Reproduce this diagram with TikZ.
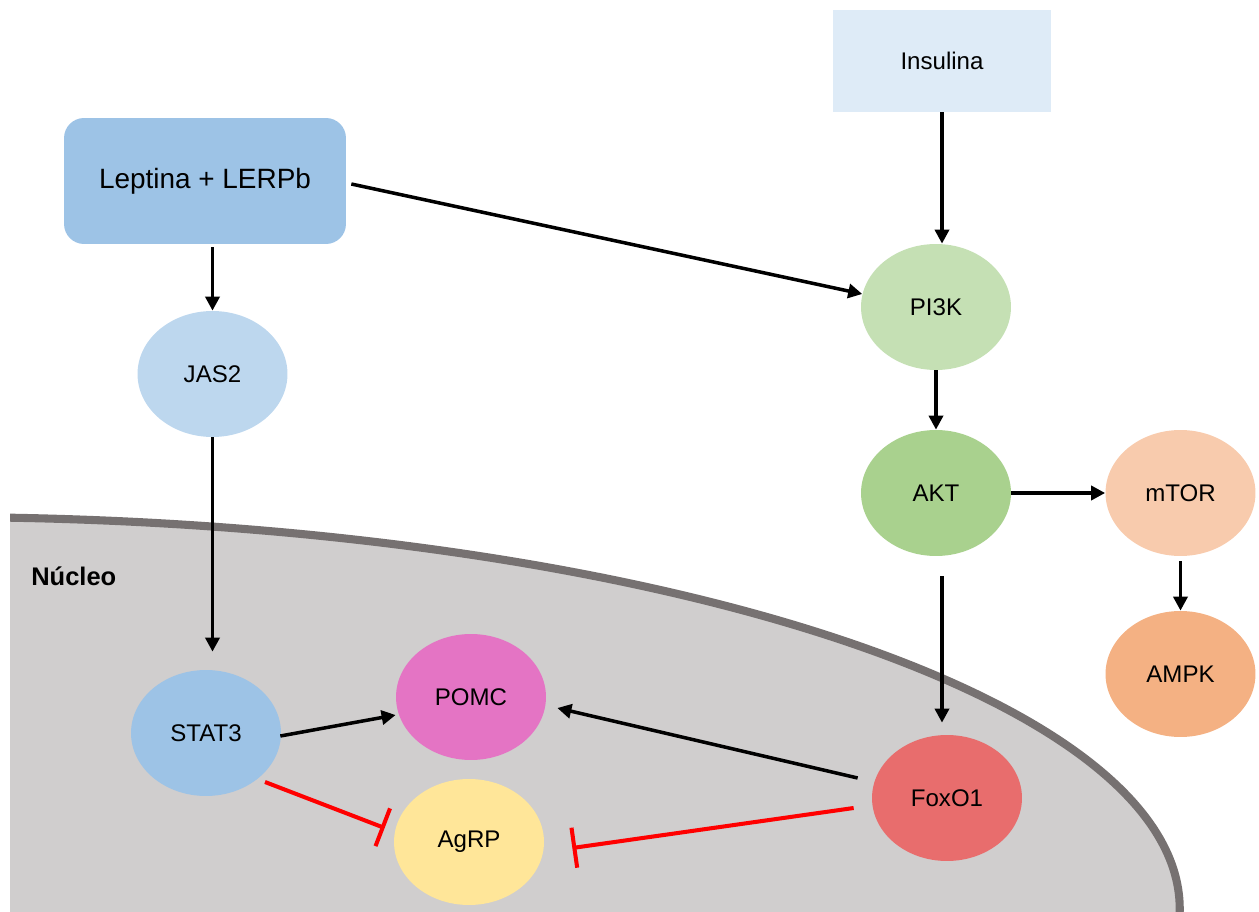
\documentclass[tikz,border=0pt]{standalone}
\usepackage{fontspec}
\setmainfont{Liberation Sans}
\usetikzlibrary{arrows.meta,shapes.geometric,calc}
\definecolor{insC}{HTML}{DEEBF7}
\definecolor{lepC}{HTML}{9DC3E6}
\definecolor{jasC}{HTML}{BDD7EE}
\definecolor{piC}{HTML}{C5E0B4}
\definecolor{aktC}{HTML}{A9D18E}
\definecolor{mtorC}{HTML}{F8CBAD}
\definecolor{ampkC}{HTML}{F4B183}
\definecolor{statC}{HTML}{9DC3E6}
\definecolor{pomcC}{HTML}{E474C4}
\definecolor{agrpC}{HTML}{FFE699}
\definecolor{foxC}{HTML}{E86D6D}
\definecolor{nucFill}{HTML}{D0CECE}
\definecolor{nucLine}{HTML}{767171}
\definecolor{inhRed}{HTML}{FF0000}
\begin{document}
\begin{tikzpicture}[x=0.02cm,y=-0.02cm,
  bub/.style={ellipse, minimum width=3cm, minimum height=2.52cm, inner sep=0pt,
    font=\fontsize{13.7pt}{16pt}\selectfont},
  act/.style={line width=2pt, black, -{Triangle[length=8pt,width=8pt]}},
  inh/.style={line width=2.3pt, inhRed, -{Bar[width=23pt]}}]
\useasboundingbox (0,0) rectangle (1259,912);
% nucleus
\begin{scope}
  \clip (10,0) rectangle (1259,912);
  \draw[fill=nucFill, draw=nucLine, line width=4.6pt] (-60,909) ellipse [x radius=24.8cm, y radius=7.84cm];
\end{scope}
\node[font=\bfseries\fontsize{14.5pt}{17pt}\selectfont, anchor=west, inner sep=0pt] (nuc) at (31,576) {Núcleo};
% boxes
\node[fill=insC, minimum width=4.36cm, minimum height=2.04cm, inner sep=0pt,
  font=\fontsize{13.7pt}{16pt}\selectfont] (ins) at (942,61) {Insulina};
\node[fill=lepC, rounded corners=0.4cm, minimum width=5.64cm, minimum height=2.52cm, inner sep=0pt,
  font=\fontsize{15.9pt}{18pt}\selectfont] (lep) at (205,181) {Leptina + LERPb};
% ellipses
\node[bub, fill=jasC] (jas) at (212.5,374) {JAS2};
\node[bub, fill=piC] (pi) at (936,307) {PI3K};
\node[bub, fill=aktC] (akt) at (936,493) {AKT};
\node[bub, fill=mtorC] (mtor) at (1180.5,493) {mTOR};
\node[bub, fill=ampkC] (ampk) at (1180.5,674) {AMPK};
\node[bub, fill=statC] (stat) at (206,733) {STAT3};
\node[bub, fill=pomcC] (pomc) at (471,697) {POMC};
\node[bub, fill=agrpC] (agrp) at (469,842) {AgRP};
\node[bub, fill=foxC] (fox) at (947,798) {FoxO1};
% activation arrows
\draw[act] ($(jas.north |- lep.south)+(0,3)$) -- (jas.north);
\draw[act] (jas.south) -- ($(jas.south |- stat.north)+(0,-18)$);
\draw[act] ($(lep.east)+(5,3)$) -- (pi.170);
\draw[act] (ins.south) -- (ins.south |- pi.north);
\draw[act] (pi.south) -- (akt.north);
\draw[act] (akt.east) -- (mtor.west);
\draw[act] ($(mtor.south)+(0,5)$) -- (ampk.north);
\draw[act] ($(akt.south)+(6,20)$) -- ($(fox.north)+(-5,-12)$);
\draw[act] ($(stat.east)+(-1,3)$) -- ($(pomc.west)+(0,18)$);
\draw[act] ($(fox.west)+(-14,-20)$) -- ($(pomc.east)+(11,11)$);
% inhibition
\draw[inh] ($(stat.center)+(59,49)$) -- ($(agrp.west)+(-9,-14)$);
\draw[inh] ($(fox.west)+(-18,10)$) -- ($(agrp.east)+(28,6)$);
\end{tikzpicture}
\end{document}
